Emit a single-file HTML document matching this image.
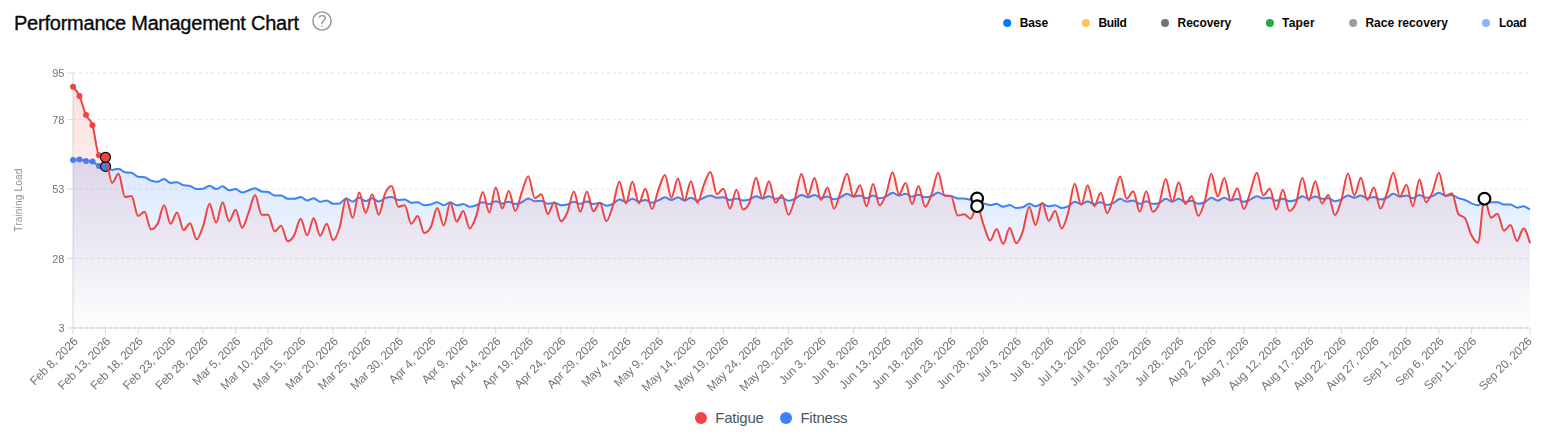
<!DOCTYPE html>
<html lang="en"><head><meta charset="utf-8"><title>Performance Management Chart</title>
<style>html,body{margin:0;padding:0;background:#fff;}body{width:1549px;height:440px;overflow:hidden;}svg{display:block;}text{font-family:"Liberation Sans",sans-serif;}</style></head><body>
<svg width="1549" height="440" viewBox="0 0 1549 440">
<defs>
<linearGradient id="gR" gradientUnits="userSpaceOnUse" x1="0" y1="86.80" x2="0" y2="328.00"><stop offset="5%" stop-color="#ef4444" stop-opacity="0.15"/><stop offset="95%" stop-color="#ef4444" stop-opacity="0.012"/></linearGradient>
<linearGradient id="gB" gradientUnits="userSpaceOnUse" x1="0" y1="159.50" x2="0" y2="328.00"><stop offset="5%" stop-color="#3b82f6" stop-opacity="0.18"/><stop offset="95%" stop-color="#3b82f6" stop-opacity="0.012"/></linearGradient>
</defs>
<rect width="1549" height="440" fill="#fff"/>
<text x="14.0" y="29.8" font-size="20" font-weight="normal" fill="#0a0a0a" textLength="285" lengthAdjust="spacing" stroke="#0a0a0a" stroke-width="0.35">Performance Management Chart</text>
<g><circle cx="322" cy="21" r="9.1" fill="none" stroke="#8e8e93" stroke-width="1.35"/>
<path d="M319.3,17.3 C319.8,16.2 320.9,15.7 322.2,15.7 C324,15.7 325.3,16.8 325.3,18.3 C325.3,20.6 321.9,20.9 321.9,23.6" fill="none" stroke="#8e8e93" stroke-width="1.3" stroke-linecap="round" stroke-linejoin="round"/><circle cx="321.9" cy="26.1" r="0.75" fill="#8e8e93"/></g>
<circle cx="1007.2" cy="23" r="4" fill="#007bff"/>
<text x="1019.8" y="27" font-size="12" font-weight="bold" fill="#050505" textLength="28.3" lengthAdjust="spacing">Base</text>
<circle cx="1085.8" cy="23" r="4" fill="#fdc25a"/>
<text x="1098.5" y="27" font-size="12" font-weight="bold" fill="#050505" textLength="28.3" lengthAdjust="spacing">Build</text>
<circle cx="1165" cy="23" r="4" fill="#6c757d"/>
<text x="1177.5" y="27" font-size="12" font-weight="bold" fill="#050505" textLength="53.8" lengthAdjust="spacing">Recovery</text>
<circle cx="1269.9" cy="23" r="4" fill="#28a745"/>
<text x="1282" y="27" font-size="12" font-weight="bold" fill="#050505" textLength="32.6" lengthAdjust="spacing">Taper</text>
<circle cx="1353.1" cy="23" r="4" fill="#9a9da1"/>
<text x="1365.4" y="27" font-size="12" font-weight="bold" fill="#050505" textLength="82.6" lengthAdjust="spacing">Race recovery</text>
<circle cx="1486" cy="23" r="4" fill="#8ab4f8"/>
<text x="1499" y="27" font-size="12" font-weight="bold" fill="#050505" textLength="27.6" lengthAdjust="spacing">Load</text>
<line x1="73.0" y1="73.0" x2="1530.0" y2="73.0" stroke="#e3e4e5" stroke-width="1" stroke-dasharray="3 3"/>
<line x1="73.0" y1="119.7" x2="1530.0" y2="119.7" stroke="#e3e4e5" stroke-width="1" stroke-dasharray="3 3"/>
<line x1="73.0" y1="189.1" x2="1530.0" y2="189.1" stroke="#e3e4e5" stroke-width="1" stroke-dasharray="3 3"/>
<line x1="73.0" y1="258.6" x2="1530.0" y2="258.6" stroke="#e3e4e5" stroke-width="1" stroke-dasharray="3 3"/>
<line x1="73.0" y1="328.0" x2="1530.0" y2="328.0" stroke="#e3e4e5" stroke-width="1" stroke-dasharray="3 3"/>
<line x1="73.0" y1="73.0" x2="73.0" y2="328.0" stroke="#d8d9db" stroke-width="1"/>
<line x1="73.0" y1="328.0" x2="1530.0" y2="328.0" stroke="#d8d9db" stroke-width="1"/>
<line x1="73.0" y1="328.0" x2="1530.0" y2="328.0" stroke="#d2d4d6" stroke-width="1" stroke-dasharray="3 3"/>
<path d="M73.00,159.90C75.17,159.70,77.34,159.50,79.50,159.50C81.67,159.50,83.84,160.73,86.01,161.00C88.18,161.27,90.35,161.13,92.51,161.40C94.68,161.67,96.85,165.90,99.02,166.10C101.19,166.30,103.35,166.20,105.52,166.40C107.69,166.60,109.86,170.00,112.03,170.00C114.19,170.00,116.36,168.64,118.53,168.64C120.70,168.64,122.87,171.97,125.04,172.27C127.20,172.58,129.37,172.42,131.54,172.73C133.71,173.03,135.88,176.52,138.04,176.82C140.21,177.12,142.38,176.97,144.55,177.27C146.72,177.58,148.89,179.92,151.05,180.68C153.22,181.44,155.39,181.82,157.56,181.82C159.73,181.82,161.89,179.09,164.06,179.09C166.23,179.09,168.40,182.95,170.57,182.95C172.74,182.95,174.90,182.27,177.07,182.27C179.24,182.27,181.41,184.77,183.58,185.23C185.74,185.68,187.91,185.45,190.08,185.91C192.25,186.36,194.42,189.09,196.58,189.09C198.75,189.09,200.92,188.94,203.09,188.64C205.26,188.33,207.43,185.68,209.59,185.68C211.76,185.68,213.93,189.09,216.10,189.09C218.27,189.09,220.43,186.36,222.60,186.36C224.77,186.36,226.94,190.23,229.11,190.23C231.28,190.23,233.44,189.09,235.61,189.09C237.78,189.09,239.95,192.50,242.12,192.50C244.28,192.50,246.45,191.17,248.62,190.45C250.79,189.73,252.96,188.18,255.12,188.18C257.29,188.18,259.46,191.29,261.63,191.59C263.80,191.89,265.97,191.74,268.13,192.05C270.30,192.35,272.47,195.45,274.64,195.45C276.81,195.45,278.97,195.45,281.14,195.45C283.31,195.45,285.48,198.86,287.65,198.86C289.82,198.86,291.98,198.86,294.15,198.86C296.32,198.86,298.49,197.05,300.66,197.05C302.82,197.05,304.99,200.45,307.16,200.45C309.33,200.45,311.50,198.18,313.67,198.18C315.83,198.18,318.00,201.82,320.17,201.82C322.34,201.82,324.51,200.45,326.67,200.45C328.84,200.45,331.01,203.86,333.18,203.86C335.35,203.86,337.51,203.71,339.68,203.41C341.85,203.11,344.02,198.41,346.19,198.41C348.36,198.41,350.52,201.59,352.69,201.59C354.86,201.59,357.03,197.73,359.20,197.73C361.36,197.73,363.53,201.14,365.70,201.14C367.87,201.14,370.04,198.18,372.21,198.18C374.37,198.18,376.54,201.59,378.71,201.59C380.88,201.59,383.05,198.94,385.21,198.18C387.38,197.42,389.55,197.05,391.72,197.05C393.89,197.05,396.06,200.00,398.22,200.00C400.39,200.00,402.56,199.55,404.73,199.55C406.90,199.55,409.06,202.73,411.23,202.73C413.40,202.73,415.57,202.27,417.74,202.27C419.90,202.27,422.07,205.23,424.24,205.23C426.41,205.23,428.58,205.00,430.75,204.55C432.91,204.09,435.08,202.27,437.25,202.27C439.42,202.27,441.59,205.23,443.75,205.23C445.92,205.23,448.09,202.27,450.26,202.27C452.43,202.27,454.60,205.23,456.76,205.23C458.93,205.23,461.10,204.09,463.27,204.09C465.44,204.09,467.60,206.82,469.77,206.82C471.94,206.82,474.11,205.98,476.28,205.23C478.44,204.47,480.61,202.27,482.78,202.27C484.95,202.27,487.12,204.09,489.29,204.09C491.45,204.09,493.62,201.14,495.79,201.14C497.96,201.14,500.13,203.41,502.29,203.41C504.46,203.41,506.63,201.82,508.80,201.82C510.97,201.82,513.14,204.09,515.30,204.09C517.47,204.09,519.64,203.22,521.81,202.27C523.98,201.33,526.14,198.41,528.31,198.41C530.48,198.41,532.65,201.14,534.82,201.14C536.99,201.14,539.15,200.68,541.32,200.68C543.49,200.68,545.66,203.86,547.83,203.86C549.99,203.86,552.16,202.73,554.33,202.73C556.50,202.73,558.67,205.23,560.83,205.23C563.00,205.23,565.17,205.00,567.34,204.55C569.51,204.09,571.68,201.82,573.84,201.82C576.01,201.82,578.18,203.86,580.35,203.86C582.52,203.86,584.68,201.59,586.85,201.59C589.02,201.59,591.19,204.09,593.36,204.09C595.53,204.09,597.69,202.73,599.86,202.73C602.03,202.73,604.20,205.68,606.37,205.68C608.53,205.68,610.70,204.89,612.87,203.86C615.04,202.84,617.21,199.55,619.38,199.55C621.54,199.55,623.71,201.82,625.88,201.82C628.05,201.82,630.22,198.86,632.38,198.86C634.55,198.86,636.72,201.59,638.89,201.59C641.06,201.59,643.22,200.00,645.39,200.00C647.56,200.00,649.73,202.73,651.90,202.73C654.07,202.73,656.23,201.36,658.40,200.45C660.57,199.55,662.74,197.27,664.91,197.27C667.07,197.27,669.24,200.00,671.41,200.00C673.58,200.00,675.75,197.27,677.92,197.27C680.08,197.27,682.25,200.45,684.42,200.45C686.59,200.45,688.76,197.73,690.92,197.73C693.09,197.73,695.26,200.45,697.43,200.45C699.60,200.45,701.76,198.56,703.93,197.73C706.10,196.89,708.27,195.45,710.44,195.45C712.61,195.45,714.77,197.73,716.94,197.73C719.11,197.73,721.28,197.27,723.45,197.27C725.61,197.27,727.78,200.00,729.95,200.00C732.12,200.00,734.29,198.41,736.46,198.41C738.62,198.41,740.79,200.45,742.96,200.45C745.13,200.45,747.30,200.15,749.46,199.55C751.63,198.94,753.80,196.14,755.97,196.14C758.14,196.14,760.31,198.41,762.47,198.41C764.64,198.41,766.81,196.14,768.98,196.14C771.15,196.14,773.31,198.86,775.48,198.86C777.65,198.86,779.82,197.73,781.99,197.73C784.15,197.73,786.32,200.68,788.49,200.68C790.66,200.68,792.83,199.81,795.00,198.86C797.16,197.92,799.33,195.00,801.50,195.00C803.67,195.00,805.84,197.27,808.00,197.27C810.17,197.27,812.34,195.00,814.51,195.00C816.68,195.00,818.85,197.73,821.01,197.73C823.18,197.73,825.35,196.59,827.52,196.59C829.69,196.59,831.85,199.32,834.02,199.32C836.19,199.32,838.36,198.22,840.53,197.27C842.69,196.33,844.86,193.64,847.03,193.64C849.20,193.64,851.37,196.59,853.54,196.59C855.70,196.59,857.87,195.45,860.04,195.45C862.21,195.45,864.38,198.18,866.54,198.18C868.71,198.18,870.88,195.45,873.05,195.45C875.22,195.45,877.39,198.18,879.55,198.18C881.72,198.18,883.89,197.50,886.06,196.59C888.23,195.68,890.39,192.73,892.56,192.73C894.73,192.73,896.90,195.45,899.07,195.45C901.24,195.45,903.40,193.86,905.57,193.86C907.74,193.86,909.91,196.59,912.08,196.59C914.24,196.59,916.41,194.77,918.58,194.77C920.75,194.77,922.92,197.27,925.08,197.27C927.25,197.27,929.42,196.89,931.59,196.14C933.76,195.38,935.93,192.50,938.09,192.50C940.26,192.50,942.43,195.15,944.60,195.45C946.77,195.76,948.93,195.61,951.10,195.91C953.27,196.21,955.44,198.41,957.61,198.41C959.78,198.41,961.94,198.41,964.11,198.41C966.28,198.41,968.45,199.55,970.62,199.55C972.78,199.55,974.95,198.86,977.12,198.86C979.29,198.86,981.46,202.39,983.62,203.41C985.79,204.43,987.96,205.00,990.13,205.00C992.30,205.00,994.47,203.86,996.63,203.86C998.80,203.86,1000.97,206.82,1003.14,206.82C1005.31,206.82,1007.47,205.00,1009.64,205.00C1011.81,205.00,1013.98,207.95,1016.15,207.95C1018.32,207.95,1020.48,207.73,1022.65,207.27C1024.82,206.82,1026.99,203.86,1029.16,203.86C1031.32,203.86,1033.49,206.36,1035.66,206.36C1037.83,206.36,1040.00,203.86,1042.17,203.86C1044.33,203.86,1046.50,206.36,1048.67,206.36C1050.84,206.36,1053.01,205.23,1055.17,205.23C1057.34,205.23,1059.51,207.95,1061.68,207.95C1063.85,207.95,1066.01,207.39,1068.18,206.36C1070.35,205.34,1072.52,201.82,1074.69,201.82C1076.86,201.82,1079.02,204.09,1081.19,204.09C1083.36,204.09,1085.53,201.59,1087.70,201.59C1089.86,201.59,1092.03,204.09,1094.20,204.09C1096.37,204.09,1098.54,202.27,1100.71,202.27C1102.87,202.27,1105.04,205.00,1107.21,205.00C1109.38,205.00,1111.55,203.98,1113.71,202.95C1115.88,201.93,1118.05,198.86,1120.22,198.86C1122.39,198.86,1124.56,201.59,1126.72,201.59C1128.89,201.59,1131.06,200.45,1133.23,200.45C1135.40,200.45,1137.56,203.86,1139.73,203.86C1141.90,203.86,1144.07,201.14,1146.24,201.14C1148.40,201.14,1150.57,203.86,1152.74,203.86C1154.91,203.86,1157.08,203.56,1159.25,202.95C1161.41,202.35,1163.58,198.86,1165.75,198.86C1167.92,198.86,1170.09,201.59,1172.25,201.59C1174.42,201.59,1176.59,198.86,1178.76,198.86C1180.93,198.86,1183.10,201.82,1185.26,201.82C1187.43,201.82,1189.60,200.68,1191.77,200.68C1193.94,200.68,1196.10,203.86,1198.27,203.86C1200.44,203.86,1202.61,203.30,1204.78,202.27C1206.94,201.25,1209.11,197.73,1211.28,197.73C1213.45,197.73,1215.62,200.45,1217.79,200.45C1219.95,200.45,1222.12,197.73,1224.29,197.73C1226.46,197.73,1228.63,200.45,1230.79,200.45C1232.96,200.45,1235.13,198.86,1237.30,198.86C1239.47,198.86,1241.64,201.82,1243.80,201.82C1245.97,201.82,1248.14,200.49,1250.31,199.55C1252.48,198.60,1254.64,196.14,1256.81,196.14C1258.98,196.14,1261.15,198.41,1263.32,198.41C1265.49,198.41,1267.65,197.73,1269.82,197.73C1271.99,197.73,1274.16,200.68,1276.33,200.68C1278.49,200.68,1280.66,198.86,1282.83,198.86C1285.00,198.86,1287.17,201.14,1289.33,201.14C1291.50,201.14,1293.67,200.76,1295.84,200.00C1298.01,199.24,1300.18,196.14,1302.34,196.14C1304.51,196.14,1306.68,198.86,1308.85,198.86C1311.02,198.86,1313.18,196.59,1315.35,196.59C1317.52,196.59,1319.69,198.86,1321.86,198.86C1324.03,198.86,1326.19,198.18,1328.36,198.18C1330.53,198.18,1332.70,201.14,1334.87,201.14C1337.03,201.14,1339.20,200.27,1341.37,199.32C1343.54,198.37,1345.71,195.45,1347.88,195.45C1350.04,195.45,1352.21,197.73,1354.38,197.73C1356.55,197.73,1358.72,195.45,1360.88,195.45C1363.05,195.45,1365.22,198.18,1367.39,198.18C1369.56,198.18,1371.72,197.05,1373.89,197.05C1376.06,197.05,1378.23,199.55,1380.40,199.55C1382.57,199.55,1384.73,198.67,1386.90,197.73C1389.07,196.78,1391.24,193.86,1393.41,193.86C1395.57,193.86,1397.74,196.59,1399.91,196.59C1402.08,196.59,1404.25,195.45,1406.42,195.45C1408.58,195.45,1410.75,198.18,1412.92,198.18C1415.09,198.18,1417.26,195.00,1419.42,195.00C1421.59,195.00,1423.76,197.73,1425.93,197.73C1428.10,197.73,1430.26,196.97,1432.43,196.14C1434.60,195.30,1436.77,192.73,1438.94,192.73C1441.11,192.73,1443.27,195.45,1445.44,195.45C1447.61,195.45,1449.78,195.00,1451.95,195.00C1454.11,195.00,1456.28,197.35,1458.45,198.18C1460.62,199.02,1462.79,199.13,1464.96,200.00C1467.12,200.87,1469.29,202.54,1471.46,203.41C1473.63,204.28,1475.80,205.23,1477.96,205.23C1480.13,205.23,1482.30,203.03,1484.47,202.73C1486.64,202.42,1488.81,202.27,1490.97,202.27C1493.14,202.27,1495.31,202.27,1497.48,202.27C1499.65,202.27,1501.81,204.55,1503.98,204.55C1506.15,204.55,1508.32,204.55,1510.49,204.55C1512.65,204.55,1514.82,207.50,1516.99,207.50C1519.16,207.50,1521.33,206.36,1523.50,206.36C1525.66,206.36,1527.83,207.95,1530.00,209.55L1530.00,328.00L73.00,328.00Z" fill="url(#gB)"/>
<path d="M73.00,159.90C75.17,159.70,77.34,159.50,79.50,159.50C81.67,159.50,83.84,160.73,86.01,161.00C88.18,161.27,90.35,161.13,92.51,161.40C94.68,161.67,96.85,165.90,99.02,166.10C101.19,166.30,103.35,166.20,105.52,166.40C107.69,166.60,109.86,170.00,112.03,170.00C114.19,170.00,116.36,168.64,118.53,168.64C120.70,168.64,122.87,171.97,125.04,172.27C127.20,172.58,129.37,172.42,131.54,172.73C133.71,173.03,135.88,176.52,138.04,176.82C140.21,177.12,142.38,176.97,144.55,177.27C146.72,177.58,148.89,179.92,151.05,180.68C153.22,181.44,155.39,181.82,157.56,181.82C159.73,181.82,161.89,179.09,164.06,179.09C166.23,179.09,168.40,182.95,170.57,182.95C172.74,182.95,174.90,182.27,177.07,182.27C179.24,182.27,181.41,184.77,183.58,185.23C185.74,185.68,187.91,185.45,190.08,185.91C192.25,186.36,194.42,189.09,196.58,189.09C198.75,189.09,200.92,188.94,203.09,188.64C205.26,188.33,207.43,185.68,209.59,185.68C211.76,185.68,213.93,189.09,216.10,189.09C218.27,189.09,220.43,186.36,222.60,186.36C224.77,186.36,226.94,190.23,229.11,190.23C231.28,190.23,233.44,189.09,235.61,189.09C237.78,189.09,239.95,192.50,242.12,192.50C244.28,192.50,246.45,191.17,248.62,190.45C250.79,189.73,252.96,188.18,255.12,188.18C257.29,188.18,259.46,191.29,261.63,191.59C263.80,191.89,265.97,191.74,268.13,192.05C270.30,192.35,272.47,195.45,274.64,195.45C276.81,195.45,278.97,195.45,281.14,195.45C283.31,195.45,285.48,198.86,287.65,198.86C289.82,198.86,291.98,198.86,294.15,198.86C296.32,198.86,298.49,197.05,300.66,197.05C302.82,197.05,304.99,200.45,307.16,200.45C309.33,200.45,311.50,198.18,313.67,198.18C315.83,198.18,318.00,201.82,320.17,201.82C322.34,201.82,324.51,200.45,326.67,200.45C328.84,200.45,331.01,203.86,333.18,203.86C335.35,203.86,337.51,203.71,339.68,203.41C341.85,203.11,344.02,198.41,346.19,198.41C348.36,198.41,350.52,201.59,352.69,201.59C354.86,201.59,357.03,197.73,359.20,197.73C361.36,197.73,363.53,201.14,365.70,201.14C367.87,201.14,370.04,198.18,372.21,198.18C374.37,198.18,376.54,201.59,378.71,201.59C380.88,201.59,383.05,198.94,385.21,198.18C387.38,197.42,389.55,197.05,391.72,197.05C393.89,197.05,396.06,200.00,398.22,200.00C400.39,200.00,402.56,199.55,404.73,199.55C406.90,199.55,409.06,202.73,411.23,202.73C413.40,202.73,415.57,202.27,417.74,202.27C419.90,202.27,422.07,205.23,424.24,205.23C426.41,205.23,428.58,205.00,430.75,204.55C432.91,204.09,435.08,202.27,437.25,202.27C439.42,202.27,441.59,205.23,443.75,205.23C445.92,205.23,448.09,202.27,450.26,202.27C452.43,202.27,454.60,205.23,456.76,205.23C458.93,205.23,461.10,204.09,463.27,204.09C465.44,204.09,467.60,206.82,469.77,206.82C471.94,206.82,474.11,205.98,476.28,205.23C478.44,204.47,480.61,202.27,482.78,202.27C484.95,202.27,487.12,204.09,489.29,204.09C491.45,204.09,493.62,201.14,495.79,201.14C497.96,201.14,500.13,203.41,502.29,203.41C504.46,203.41,506.63,201.82,508.80,201.82C510.97,201.82,513.14,204.09,515.30,204.09C517.47,204.09,519.64,203.22,521.81,202.27C523.98,201.33,526.14,198.41,528.31,198.41C530.48,198.41,532.65,201.14,534.82,201.14C536.99,201.14,539.15,200.68,541.32,200.68C543.49,200.68,545.66,203.86,547.83,203.86C549.99,203.86,552.16,202.73,554.33,202.73C556.50,202.73,558.67,205.23,560.83,205.23C563.00,205.23,565.17,205.00,567.34,204.55C569.51,204.09,571.68,201.82,573.84,201.82C576.01,201.82,578.18,203.86,580.35,203.86C582.52,203.86,584.68,201.59,586.85,201.59C589.02,201.59,591.19,204.09,593.36,204.09C595.53,204.09,597.69,202.73,599.86,202.73C602.03,202.73,604.20,205.68,606.37,205.68C608.53,205.68,610.70,204.89,612.87,203.86C615.04,202.84,617.21,199.55,619.38,199.55C621.54,199.55,623.71,201.82,625.88,201.82C628.05,201.82,630.22,198.86,632.38,198.86C634.55,198.86,636.72,201.59,638.89,201.59C641.06,201.59,643.22,200.00,645.39,200.00C647.56,200.00,649.73,202.73,651.90,202.73C654.07,202.73,656.23,201.36,658.40,200.45C660.57,199.55,662.74,197.27,664.91,197.27C667.07,197.27,669.24,200.00,671.41,200.00C673.58,200.00,675.75,197.27,677.92,197.27C680.08,197.27,682.25,200.45,684.42,200.45C686.59,200.45,688.76,197.73,690.92,197.73C693.09,197.73,695.26,200.45,697.43,200.45C699.60,200.45,701.76,198.56,703.93,197.73C706.10,196.89,708.27,195.45,710.44,195.45C712.61,195.45,714.77,197.73,716.94,197.73C719.11,197.73,721.28,197.27,723.45,197.27C725.61,197.27,727.78,200.00,729.95,200.00C732.12,200.00,734.29,198.41,736.46,198.41C738.62,198.41,740.79,200.45,742.96,200.45C745.13,200.45,747.30,200.15,749.46,199.55C751.63,198.94,753.80,196.14,755.97,196.14C758.14,196.14,760.31,198.41,762.47,198.41C764.64,198.41,766.81,196.14,768.98,196.14C771.15,196.14,773.31,198.86,775.48,198.86C777.65,198.86,779.82,197.73,781.99,197.73C784.15,197.73,786.32,200.68,788.49,200.68C790.66,200.68,792.83,199.81,795.00,198.86C797.16,197.92,799.33,195.00,801.50,195.00C803.67,195.00,805.84,197.27,808.00,197.27C810.17,197.27,812.34,195.00,814.51,195.00C816.68,195.00,818.85,197.73,821.01,197.73C823.18,197.73,825.35,196.59,827.52,196.59C829.69,196.59,831.85,199.32,834.02,199.32C836.19,199.32,838.36,198.22,840.53,197.27C842.69,196.33,844.86,193.64,847.03,193.64C849.20,193.64,851.37,196.59,853.54,196.59C855.70,196.59,857.87,195.45,860.04,195.45C862.21,195.45,864.38,198.18,866.54,198.18C868.71,198.18,870.88,195.45,873.05,195.45C875.22,195.45,877.39,198.18,879.55,198.18C881.72,198.18,883.89,197.50,886.06,196.59C888.23,195.68,890.39,192.73,892.56,192.73C894.73,192.73,896.90,195.45,899.07,195.45C901.24,195.45,903.40,193.86,905.57,193.86C907.74,193.86,909.91,196.59,912.08,196.59C914.24,196.59,916.41,194.77,918.58,194.77C920.75,194.77,922.92,197.27,925.08,197.27C927.25,197.27,929.42,196.89,931.59,196.14C933.76,195.38,935.93,192.50,938.09,192.50C940.26,192.50,942.43,195.15,944.60,195.45C946.77,195.76,948.93,195.61,951.10,195.91C953.27,196.21,955.44,198.41,957.61,198.41C959.78,198.41,961.94,198.41,964.11,198.41C966.28,198.41,968.45,199.55,970.62,199.55C972.78,199.55,974.95,198.86,977.12,198.86C979.29,198.86,981.46,202.39,983.62,203.41C985.79,204.43,987.96,205.00,990.13,205.00C992.30,205.00,994.47,203.86,996.63,203.86C998.80,203.86,1000.97,206.82,1003.14,206.82C1005.31,206.82,1007.47,205.00,1009.64,205.00C1011.81,205.00,1013.98,207.95,1016.15,207.95C1018.32,207.95,1020.48,207.73,1022.65,207.27C1024.82,206.82,1026.99,203.86,1029.16,203.86C1031.32,203.86,1033.49,206.36,1035.66,206.36C1037.83,206.36,1040.00,203.86,1042.17,203.86C1044.33,203.86,1046.50,206.36,1048.67,206.36C1050.84,206.36,1053.01,205.23,1055.17,205.23C1057.34,205.23,1059.51,207.95,1061.68,207.95C1063.85,207.95,1066.01,207.39,1068.18,206.36C1070.35,205.34,1072.52,201.82,1074.69,201.82C1076.86,201.82,1079.02,204.09,1081.19,204.09C1083.36,204.09,1085.53,201.59,1087.70,201.59C1089.86,201.59,1092.03,204.09,1094.20,204.09C1096.37,204.09,1098.54,202.27,1100.71,202.27C1102.87,202.27,1105.04,205.00,1107.21,205.00C1109.38,205.00,1111.55,203.98,1113.71,202.95C1115.88,201.93,1118.05,198.86,1120.22,198.86C1122.39,198.86,1124.56,201.59,1126.72,201.59C1128.89,201.59,1131.06,200.45,1133.23,200.45C1135.40,200.45,1137.56,203.86,1139.73,203.86C1141.90,203.86,1144.07,201.14,1146.24,201.14C1148.40,201.14,1150.57,203.86,1152.74,203.86C1154.91,203.86,1157.08,203.56,1159.25,202.95C1161.41,202.35,1163.58,198.86,1165.75,198.86C1167.92,198.86,1170.09,201.59,1172.25,201.59C1174.42,201.59,1176.59,198.86,1178.76,198.86C1180.93,198.86,1183.10,201.82,1185.26,201.82C1187.43,201.82,1189.60,200.68,1191.77,200.68C1193.94,200.68,1196.10,203.86,1198.27,203.86C1200.44,203.86,1202.61,203.30,1204.78,202.27C1206.94,201.25,1209.11,197.73,1211.28,197.73C1213.45,197.73,1215.62,200.45,1217.79,200.45C1219.95,200.45,1222.12,197.73,1224.29,197.73C1226.46,197.73,1228.63,200.45,1230.79,200.45C1232.96,200.45,1235.13,198.86,1237.30,198.86C1239.47,198.86,1241.64,201.82,1243.80,201.82C1245.97,201.82,1248.14,200.49,1250.31,199.55C1252.48,198.60,1254.64,196.14,1256.81,196.14C1258.98,196.14,1261.15,198.41,1263.32,198.41C1265.49,198.41,1267.65,197.73,1269.82,197.73C1271.99,197.73,1274.16,200.68,1276.33,200.68C1278.49,200.68,1280.66,198.86,1282.83,198.86C1285.00,198.86,1287.17,201.14,1289.33,201.14C1291.50,201.14,1293.67,200.76,1295.84,200.00C1298.01,199.24,1300.18,196.14,1302.34,196.14C1304.51,196.14,1306.68,198.86,1308.85,198.86C1311.02,198.86,1313.18,196.59,1315.35,196.59C1317.52,196.59,1319.69,198.86,1321.86,198.86C1324.03,198.86,1326.19,198.18,1328.36,198.18C1330.53,198.18,1332.70,201.14,1334.87,201.14C1337.03,201.14,1339.20,200.27,1341.37,199.32C1343.54,198.37,1345.71,195.45,1347.88,195.45C1350.04,195.45,1352.21,197.73,1354.38,197.73C1356.55,197.73,1358.72,195.45,1360.88,195.45C1363.05,195.45,1365.22,198.18,1367.39,198.18C1369.56,198.18,1371.72,197.05,1373.89,197.05C1376.06,197.05,1378.23,199.55,1380.40,199.55C1382.57,199.55,1384.73,198.67,1386.90,197.73C1389.07,196.78,1391.24,193.86,1393.41,193.86C1395.57,193.86,1397.74,196.59,1399.91,196.59C1402.08,196.59,1404.25,195.45,1406.42,195.45C1408.58,195.45,1410.75,198.18,1412.92,198.18C1415.09,198.18,1417.26,195.00,1419.42,195.00C1421.59,195.00,1423.76,197.73,1425.93,197.73C1428.10,197.73,1430.26,196.97,1432.43,196.14C1434.60,195.30,1436.77,192.73,1438.94,192.73C1441.11,192.73,1443.27,195.45,1445.44,195.45C1447.61,195.45,1449.78,195.00,1451.95,195.00C1454.11,195.00,1456.28,197.35,1458.45,198.18C1460.62,199.02,1462.79,199.13,1464.96,200.00C1467.12,200.87,1469.29,202.54,1471.46,203.41C1473.63,204.28,1475.80,205.23,1477.96,205.23C1480.13,205.23,1482.30,203.03,1484.47,202.73C1486.64,202.42,1488.81,202.27,1490.97,202.27C1493.14,202.27,1495.31,202.27,1497.48,202.27C1499.65,202.27,1501.81,204.55,1503.98,204.55C1506.15,204.55,1508.32,204.55,1510.49,204.55C1512.65,204.55,1514.82,207.50,1516.99,207.50C1519.16,207.50,1521.33,206.36,1523.50,206.36C1525.66,206.36,1527.83,207.95,1530.00,209.55" fill="none" stroke="#3b82f6" stroke-width="2" stroke-linejoin="round"/>
<circle cx="73.00" cy="159.90" r="3" fill="#3b82f6"/>
<circle cx="79.50" cy="159.50" r="3" fill="#3b82f6"/>
<circle cx="86.01" cy="161.00" r="3" fill="#3b82f6"/>
<circle cx="92.51" cy="161.40" r="3" fill="#3b82f6"/>
<circle cx="99.02" cy="166.10" r="3" fill="#3b82f6"/>
<circle cx="105.52" cy="166.40" r="5" fill="#3b82f6" stroke="#000" stroke-width="1.2"/>
<path d="M73.00,86.80C75.17,89.09,77.34,91.38,79.50,96.10C81.67,100.82,83.84,110.25,86.01,115.10C88.18,119.95,90.35,118.50,92.51,125.20C94.68,131.90,96.85,153.97,99.02,155.30C101.19,156.63,103.35,155.97,105.52,157.30C107.69,158.63,109.86,182.95,112.03,182.95C114.19,182.95,116.36,173.86,118.53,173.86C120.70,173.86,122.87,197.00,125.04,197.00C127.20,197.00,129.37,196.00,131.54,196.00C133.71,196.00,135.88,215.91,138.04,215.91C140.21,215.91,142.38,211.82,144.55,211.82C146.72,211.82,148.89,229.55,151.05,229.55C153.22,229.55,155.39,227.65,157.56,223.86C159.73,220.08,161.89,205.23,164.06,205.23C166.23,205.23,168.40,223.86,170.57,223.86C172.74,223.86,174.90,212.50,177.07,212.50C179.24,212.50,181.41,230.00,183.58,230.00C185.74,230.00,187.91,223.18,190.08,223.18C192.25,223.18,194.42,239.32,196.58,239.32C198.75,239.32,200.92,232.05,203.09,226.14C205.26,220.23,207.43,203.86,209.59,203.86C211.76,203.86,213.93,222.73,216.10,222.73C218.27,222.73,220.43,202.27,222.60,202.27C224.77,202.27,226.94,221.14,229.11,221.14C231.28,221.14,233.44,209.77,235.61,209.77C237.78,209.77,239.95,227.73,242.12,227.73C244.28,227.73,246.45,217.95,248.62,212.50C250.79,207.05,252.96,195.00,255.12,195.00C257.29,195.00,259.46,214.77,261.63,214.77C263.80,214.77,265.97,214.77,268.13,214.77C270.30,214.77,272.47,231.36,274.64,231.36C276.81,231.36,278.97,225.68,281.14,225.68C283.31,225.68,285.48,241.36,287.65,241.36C289.82,241.36,291.98,239.02,294.15,235.23C296.32,231.44,298.49,218.64,300.66,218.64C302.82,218.64,304.99,235.23,307.16,235.23C309.33,235.23,311.50,218.18,313.67,218.18C315.83,218.18,318.00,235.68,320.17,235.68C322.34,235.68,324.51,223.86,326.67,223.86C328.84,223.86,331.01,240.23,333.18,240.23C335.35,240.23,337.51,234.28,339.68,227.27C341.85,220.27,344.02,198.18,346.19,198.18C348.36,198.18,350.52,217.73,352.69,217.73C354.86,217.73,357.03,192.50,359.20,192.50C361.36,192.50,363.53,212.95,365.70,212.95C367.87,212.95,370.04,194.32,372.21,194.32C374.37,194.32,376.54,214.77,378.71,214.77C380.88,214.77,383.05,197.99,385.21,193.18C387.38,188.37,389.55,185.91,391.72,185.91C393.89,185.91,396.06,206.82,398.22,206.82C400.39,206.82,402.56,205.23,404.73,205.23C406.90,205.23,409.06,223.86,411.23,223.86C413.40,223.86,415.57,215.91,417.74,215.91C419.90,215.91,422.07,232.95,424.24,232.95C426.41,232.95,428.58,231.06,430.75,227.27C432.91,223.48,435.08,207.95,437.25,207.95C439.42,207.95,441.59,225.45,443.75,225.45C445.92,225.45,448.09,202.73,450.26,202.73C452.43,202.73,454.60,221.59,456.76,221.59C458.93,221.59,461.10,210.91,463.27,210.91C465.44,210.91,467.60,228.41,469.77,228.41C471.94,228.41,474.11,221.97,476.28,215.91C478.44,209.85,480.61,192.05,482.78,192.05C484.95,192.05,487.12,212.50,489.29,212.50C491.45,212.50,493.62,187.50,495.79,187.50C497.96,187.50,500.13,208.41,502.29,208.41C504.46,208.41,506.63,190.91,508.80,190.91C510.97,190.91,513.14,210.91,515.30,210.91C517.47,210.91,519.64,197.84,521.81,192.05C523.98,186.25,526.14,176.14,528.31,176.14C530.48,176.14,532.65,198.18,534.82,198.18C536.99,198.18,539.15,194.32,541.32,194.32C543.49,194.32,545.66,214.09,547.83,214.09C549.99,214.09,552.16,202.27,554.33,202.27C556.50,202.27,558.67,221.14,560.83,221.14C563.00,221.14,565.17,217.42,567.34,212.50C569.51,207.58,571.68,191.59,573.84,191.59C576.01,191.59,578.18,211.82,580.35,211.82C582.52,211.82,584.68,191.59,586.85,191.59C589.02,191.59,591.19,211.36,593.36,211.36C595.53,211.36,597.69,202.73,599.86,202.73C602.03,202.73,604.20,221.14,606.37,221.14C608.53,221.14,610.70,212.23,612.87,205.68C615.04,199.13,617.21,181.82,619.38,181.82C621.54,181.82,623.71,203.41,625.88,203.41C628.05,203.41,630.22,181.82,632.38,181.82C634.55,181.82,636.72,203.41,638.89,203.41C641.06,203.41,643.22,188.64,645.39,188.64C647.56,188.64,649.73,209.09,651.90,209.09C654.07,209.09,656.23,195.48,658.40,189.80C660.57,184.12,662.74,175.00,664.91,175.00C667.07,175.00,669.24,197.73,671.41,197.73C673.58,197.73,675.75,178.41,677.92,178.41C680.08,178.41,682.25,200.45,684.42,200.45C686.59,200.45,688.76,181.14,690.92,181.14C693.09,181.14,695.26,202.73,697.43,202.73C699.60,202.73,701.76,189.71,703.93,184.60C706.10,179.49,708.27,172.05,710.44,172.05C712.61,172.05,714.77,194.32,716.94,194.32C719.11,194.32,721.28,188.64,723.45,188.64C725.61,188.64,727.78,208.64,729.95,208.64C732.12,208.64,734.29,189.77,736.46,189.77C738.62,189.77,740.79,209.55,742.96,209.55C745.13,209.55,747.30,207.27,749.46,202.73C751.63,198.18,753.80,177.73,755.97,177.73C758.14,177.73,760.31,198.41,762.47,198.41C764.64,198.41,766.81,181.36,768.98,181.36C771.15,181.36,773.31,202.73,775.48,202.73C777.65,202.73,779.82,195.00,781.99,195.00C784.15,195.00,786.32,214.77,788.49,214.77C790.66,214.77,792.83,205.00,795.00,198.18C797.16,191.36,799.33,173.86,801.50,173.86C803.67,173.86,805.84,195.45,808.00,195.45C810.17,195.45,812.34,177.95,814.51,177.95C816.68,177.95,818.85,200.00,821.01,200.00C823.18,200.00,825.35,187.50,827.52,187.50C829.69,187.50,831.85,208.64,834.02,208.64C836.19,208.64,838.36,197.84,840.53,192.05C842.69,186.25,844.86,173.86,847.03,173.86C849.20,173.86,851.37,196.59,853.54,196.59C855.70,196.59,857.87,185.23,860.04,185.23C862.21,185.23,864.38,206.36,866.54,206.36C868.71,206.36,870.88,184.09,873.05,184.09C875.22,184.09,877.39,205.23,879.55,205.23C881.72,205.23,883.89,199.81,886.06,194.32C888.23,188.83,890.39,172.27,892.56,172.27C894.73,172.27,896.90,194.32,899.07,194.32C901.24,194.32,903.40,182.95,905.57,182.95C907.74,182.95,909.91,204.09,912.08,204.09C914.24,204.09,916.41,185.91,918.58,185.91C920.75,185.91,922.92,206.82,925.08,206.82C927.25,206.82,929.42,200.00,931.59,194.32C933.76,188.64,935.93,172.73,938.09,172.73C940.26,172.73,942.43,195.00,944.60,195.45C946.77,195.91,948.93,195.68,951.10,196.14C953.27,196.59,955.44,215.45,957.61,215.45C959.78,215.45,961.94,214.32,964.11,214.32C966.28,214.32,968.45,218.64,970.62,218.64C972.78,218.64,974.95,205.68,977.12,205.68C979.29,205.68,981.46,219.20,983.62,225.00C985.79,230.80,987.96,240.45,990.13,240.45C992.30,240.45,994.47,229.09,996.63,229.09C998.80,229.09,1000.97,243.86,1003.14,243.86C1005.31,243.86,1007.47,227.95,1009.64,227.95C1011.81,227.95,1013.98,243.18,1016.15,243.18C1018.32,243.18,1020.48,237.88,1022.65,231.82C1024.82,225.76,1026.99,206.82,1029.16,206.82C1031.32,206.82,1033.49,225.00,1035.66,225.00C1037.83,225.00,1040.00,202.73,1042.17,202.73C1044.33,202.73,1046.50,220.91,1048.67,220.91C1050.84,220.91,1053.01,210.91,1055.17,210.91C1057.34,210.91,1059.51,228.41,1061.68,228.41C1063.85,228.41,1066.01,219.96,1068.18,212.50C1070.35,205.04,1072.52,183.64,1074.69,183.64C1076.86,183.64,1079.02,205.00,1081.19,205.00C1083.36,205.00,1085.53,185.23,1087.70,185.23C1089.86,185.23,1092.03,206.14,1094.20,206.14C1096.37,206.14,1098.54,192.73,1100.71,192.73C1102.87,192.73,1105.04,213.18,1107.21,213.18C1109.38,213.18,1111.55,202.69,1113.71,196.59C1115.88,190.49,1118.05,176.59,1120.22,176.59C1122.39,176.59,1124.56,198.86,1126.72,198.86C1128.89,198.86,1131.06,191.36,1133.23,191.36C1135.40,191.36,1137.56,211.82,1139.73,211.82C1141.90,211.82,1144.07,191.36,1146.24,191.36C1148.40,191.36,1150.57,211.82,1152.74,211.82C1154.91,211.82,1157.08,208.86,1159.25,203.41C1161.41,197.95,1163.58,179.09,1165.75,179.09C1167.92,179.09,1170.09,201.59,1172.25,201.59C1174.42,201.59,1176.59,182.27,1178.76,182.27C1180.93,182.27,1183.10,204.09,1185.26,204.09C1187.43,204.09,1189.60,196.14,1191.77,196.14C1193.94,196.14,1196.10,215.91,1198.27,215.91C1200.44,215.91,1202.61,208.14,1204.78,201.14C1206.94,194.13,1209.11,173.86,1211.28,173.86C1213.45,173.86,1215.62,196.59,1217.79,196.59C1219.95,196.59,1222.12,177.95,1224.29,177.95C1226.46,177.95,1228.63,200.45,1230.79,200.45C1232.96,200.45,1235.13,188.18,1237.30,188.18C1239.47,188.18,1241.64,209.09,1243.80,209.09C1245.97,209.09,1248.14,198.11,1250.31,192.05C1252.48,185.98,1254.64,172.73,1256.81,172.73C1258.98,172.73,1261.15,195.45,1263.32,195.45C1265.49,195.45,1267.65,188.64,1269.82,188.64C1271.99,188.64,1274.16,209.77,1276.33,209.77C1278.49,209.77,1280.66,189.77,1282.83,189.77C1285.00,189.77,1287.17,210.91,1289.33,210.91C1291.50,210.91,1293.67,208.41,1295.84,203.41C1298.01,198.41,1300.18,177.73,1302.34,177.73C1304.51,177.73,1306.68,200.45,1308.85,200.45C1311.02,200.45,1313.18,181.14,1315.35,181.14C1317.52,181.14,1319.69,203.41,1321.86,203.41C1324.03,203.41,1326.19,195.00,1328.36,195.00C1330.53,195.00,1332.70,215.23,1334.87,215.23C1337.03,215.23,1339.20,206.97,1341.37,200.00C1343.54,193.03,1345.71,173.41,1347.88,173.41C1350.04,173.41,1352.21,195.45,1354.38,195.45C1356.55,195.45,1358.72,177.73,1360.88,177.73C1363.05,177.73,1365.22,200.00,1367.39,200.00C1369.56,200.00,1371.72,187.50,1373.89,187.50C1376.06,187.50,1378.23,208.64,1380.40,208.64C1382.57,208.64,1384.73,199.17,1386.90,193.18C1389.07,187.20,1391.24,172.73,1393.41,172.73C1395.57,172.73,1397.74,196.59,1399.91,196.59C1402.08,196.59,1404.25,184.77,1406.42,184.77C1408.58,184.77,1410.75,206.14,1412.92,206.14C1415.09,206.14,1417.26,179.55,1419.42,179.55C1421.59,179.55,1423.76,202.27,1425.93,202.27C1428.10,202.27,1430.26,196.97,1432.43,192.05C1434.60,187.12,1436.77,172.73,1438.94,172.73C1441.11,172.73,1443.27,196.14,1445.44,196.14C1447.61,196.14,1449.78,193.18,1451.95,193.18C1454.11,193.18,1456.28,211.36,1458.45,214.09C1460.62,216.82,1462.79,215.45,1464.96,218.18C1467.12,220.91,1469.29,231.14,1471.46,235.23C1473.63,239.32,1475.80,242.73,1477.96,242.73C1480.13,242.73,1482.30,198.86,1484.47,198.86C1486.64,198.86,1488.81,217.73,1490.97,217.73C1493.14,217.73,1495.31,213.64,1497.48,213.64C1499.65,213.64,1501.81,230.68,1503.98,230.68C1506.15,230.68,1508.32,225.00,1510.49,225.00C1512.65,225.00,1514.82,240.91,1516.99,240.91C1519.16,240.91,1521.33,228.41,1523.50,228.41C1525.66,228.41,1527.83,235.80,1530.00,243.18L1530.00,328.00L73.00,328.00Z" fill="url(#gR)"/>
<path d="M73.00,86.80C75.17,89.09,77.34,91.38,79.50,96.10C81.67,100.82,83.84,110.25,86.01,115.10C88.18,119.95,90.35,118.50,92.51,125.20C94.68,131.90,96.85,153.97,99.02,155.30C101.19,156.63,103.35,155.97,105.52,157.30C107.69,158.63,109.86,182.95,112.03,182.95C114.19,182.95,116.36,173.86,118.53,173.86C120.70,173.86,122.87,197.00,125.04,197.00C127.20,197.00,129.37,196.00,131.54,196.00C133.71,196.00,135.88,215.91,138.04,215.91C140.21,215.91,142.38,211.82,144.55,211.82C146.72,211.82,148.89,229.55,151.05,229.55C153.22,229.55,155.39,227.65,157.56,223.86C159.73,220.08,161.89,205.23,164.06,205.23C166.23,205.23,168.40,223.86,170.57,223.86C172.74,223.86,174.90,212.50,177.07,212.50C179.24,212.50,181.41,230.00,183.58,230.00C185.74,230.00,187.91,223.18,190.08,223.18C192.25,223.18,194.42,239.32,196.58,239.32C198.75,239.32,200.92,232.05,203.09,226.14C205.26,220.23,207.43,203.86,209.59,203.86C211.76,203.86,213.93,222.73,216.10,222.73C218.27,222.73,220.43,202.27,222.60,202.27C224.77,202.27,226.94,221.14,229.11,221.14C231.28,221.14,233.44,209.77,235.61,209.77C237.78,209.77,239.95,227.73,242.12,227.73C244.28,227.73,246.45,217.95,248.62,212.50C250.79,207.05,252.96,195.00,255.12,195.00C257.29,195.00,259.46,214.77,261.63,214.77C263.80,214.77,265.97,214.77,268.13,214.77C270.30,214.77,272.47,231.36,274.64,231.36C276.81,231.36,278.97,225.68,281.14,225.68C283.31,225.68,285.48,241.36,287.65,241.36C289.82,241.36,291.98,239.02,294.15,235.23C296.32,231.44,298.49,218.64,300.66,218.64C302.82,218.64,304.99,235.23,307.16,235.23C309.33,235.23,311.50,218.18,313.67,218.18C315.83,218.18,318.00,235.68,320.17,235.68C322.34,235.68,324.51,223.86,326.67,223.86C328.84,223.86,331.01,240.23,333.18,240.23C335.35,240.23,337.51,234.28,339.68,227.27C341.85,220.27,344.02,198.18,346.19,198.18C348.36,198.18,350.52,217.73,352.69,217.73C354.86,217.73,357.03,192.50,359.20,192.50C361.36,192.50,363.53,212.95,365.70,212.95C367.87,212.95,370.04,194.32,372.21,194.32C374.37,194.32,376.54,214.77,378.71,214.77C380.88,214.77,383.05,197.99,385.21,193.18C387.38,188.37,389.55,185.91,391.72,185.91C393.89,185.91,396.06,206.82,398.22,206.82C400.39,206.82,402.56,205.23,404.73,205.23C406.90,205.23,409.06,223.86,411.23,223.86C413.40,223.86,415.57,215.91,417.74,215.91C419.90,215.91,422.07,232.95,424.24,232.95C426.41,232.95,428.58,231.06,430.75,227.27C432.91,223.48,435.08,207.95,437.25,207.95C439.42,207.95,441.59,225.45,443.75,225.45C445.92,225.45,448.09,202.73,450.26,202.73C452.43,202.73,454.60,221.59,456.76,221.59C458.93,221.59,461.10,210.91,463.27,210.91C465.44,210.91,467.60,228.41,469.77,228.41C471.94,228.41,474.11,221.97,476.28,215.91C478.44,209.85,480.61,192.05,482.78,192.05C484.95,192.05,487.12,212.50,489.29,212.50C491.45,212.50,493.62,187.50,495.79,187.50C497.96,187.50,500.13,208.41,502.29,208.41C504.46,208.41,506.63,190.91,508.80,190.91C510.97,190.91,513.14,210.91,515.30,210.91C517.47,210.91,519.64,197.84,521.81,192.05C523.98,186.25,526.14,176.14,528.31,176.14C530.48,176.14,532.65,198.18,534.82,198.18C536.99,198.18,539.15,194.32,541.32,194.32C543.49,194.32,545.66,214.09,547.83,214.09C549.99,214.09,552.16,202.27,554.33,202.27C556.50,202.27,558.67,221.14,560.83,221.14C563.00,221.14,565.17,217.42,567.34,212.50C569.51,207.58,571.68,191.59,573.84,191.59C576.01,191.59,578.18,211.82,580.35,211.82C582.52,211.82,584.68,191.59,586.85,191.59C589.02,191.59,591.19,211.36,593.36,211.36C595.53,211.36,597.69,202.73,599.86,202.73C602.03,202.73,604.20,221.14,606.37,221.14C608.53,221.14,610.70,212.23,612.87,205.68C615.04,199.13,617.21,181.82,619.38,181.82C621.54,181.82,623.71,203.41,625.88,203.41C628.05,203.41,630.22,181.82,632.38,181.82C634.55,181.82,636.72,203.41,638.89,203.41C641.06,203.41,643.22,188.64,645.39,188.64C647.56,188.64,649.73,209.09,651.90,209.09C654.07,209.09,656.23,195.48,658.40,189.80C660.57,184.12,662.74,175.00,664.91,175.00C667.07,175.00,669.24,197.73,671.41,197.73C673.58,197.73,675.75,178.41,677.92,178.41C680.08,178.41,682.25,200.45,684.42,200.45C686.59,200.45,688.76,181.14,690.92,181.14C693.09,181.14,695.26,202.73,697.43,202.73C699.60,202.73,701.76,189.71,703.93,184.60C706.10,179.49,708.27,172.05,710.44,172.05C712.61,172.05,714.77,194.32,716.94,194.32C719.11,194.32,721.28,188.64,723.45,188.64C725.61,188.64,727.78,208.64,729.95,208.64C732.12,208.64,734.29,189.77,736.46,189.77C738.62,189.77,740.79,209.55,742.96,209.55C745.13,209.55,747.30,207.27,749.46,202.73C751.63,198.18,753.80,177.73,755.97,177.73C758.14,177.73,760.31,198.41,762.47,198.41C764.64,198.41,766.81,181.36,768.98,181.36C771.15,181.36,773.31,202.73,775.48,202.73C777.65,202.73,779.82,195.00,781.99,195.00C784.15,195.00,786.32,214.77,788.49,214.77C790.66,214.77,792.83,205.00,795.00,198.18C797.16,191.36,799.33,173.86,801.50,173.86C803.67,173.86,805.84,195.45,808.00,195.45C810.17,195.45,812.34,177.95,814.51,177.95C816.68,177.95,818.85,200.00,821.01,200.00C823.18,200.00,825.35,187.50,827.52,187.50C829.69,187.50,831.85,208.64,834.02,208.64C836.19,208.64,838.36,197.84,840.53,192.05C842.69,186.25,844.86,173.86,847.03,173.86C849.20,173.86,851.37,196.59,853.54,196.59C855.70,196.59,857.87,185.23,860.04,185.23C862.21,185.23,864.38,206.36,866.54,206.36C868.71,206.36,870.88,184.09,873.05,184.09C875.22,184.09,877.39,205.23,879.55,205.23C881.72,205.23,883.89,199.81,886.06,194.32C888.23,188.83,890.39,172.27,892.56,172.27C894.73,172.27,896.90,194.32,899.07,194.32C901.24,194.32,903.40,182.95,905.57,182.95C907.74,182.95,909.91,204.09,912.08,204.09C914.24,204.09,916.41,185.91,918.58,185.91C920.75,185.91,922.92,206.82,925.08,206.82C927.25,206.82,929.42,200.00,931.59,194.32C933.76,188.64,935.93,172.73,938.09,172.73C940.26,172.73,942.43,195.00,944.60,195.45C946.77,195.91,948.93,195.68,951.10,196.14C953.27,196.59,955.44,215.45,957.61,215.45C959.78,215.45,961.94,214.32,964.11,214.32C966.28,214.32,968.45,218.64,970.62,218.64C972.78,218.64,974.95,205.68,977.12,205.68C979.29,205.68,981.46,219.20,983.62,225.00C985.79,230.80,987.96,240.45,990.13,240.45C992.30,240.45,994.47,229.09,996.63,229.09C998.80,229.09,1000.97,243.86,1003.14,243.86C1005.31,243.86,1007.47,227.95,1009.64,227.95C1011.81,227.95,1013.98,243.18,1016.15,243.18C1018.32,243.18,1020.48,237.88,1022.65,231.82C1024.82,225.76,1026.99,206.82,1029.16,206.82C1031.32,206.82,1033.49,225.00,1035.66,225.00C1037.83,225.00,1040.00,202.73,1042.17,202.73C1044.33,202.73,1046.50,220.91,1048.67,220.91C1050.84,220.91,1053.01,210.91,1055.17,210.91C1057.34,210.91,1059.51,228.41,1061.68,228.41C1063.85,228.41,1066.01,219.96,1068.18,212.50C1070.35,205.04,1072.52,183.64,1074.69,183.64C1076.86,183.64,1079.02,205.00,1081.19,205.00C1083.36,205.00,1085.53,185.23,1087.70,185.23C1089.86,185.23,1092.03,206.14,1094.20,206.14C1096.37,206.14,1098.54,192.73,1100.71,192.73C1102.87,192.73,1105.04,213.18,1107.21,213.18C1109.38,213.18,1111.55,202.69,1113.71,196.59C1115.88,190.49,1118.05,176.59,1120.22,176.59C1122.39,176.59,1124.56,198.86,1126.72,198.86C1128.89,198.86,1131.06,191.36,1133.23,191.36C1135.40,191.36,1137.56,211.82,1139.73,211.82C1141.90,211.82,1144.07,191.36,1146.24,191.36C1148.40,191.36,1150.57,211.82,1152.74,211.82C1154.91,211.82,1157.08,208.86,1159.25,203.41C1161.41,197.95,1163.58,179.09,1165.75,179.09C1167.92,179.09,1170.09,201.59,1172.25,201.59C1174.42,201.59,1176.59,182.27,1178.76,182.27C1180.93,182.27,1183.10,204.09,1185.26,204.09C1187.43,204.09,1189.60,196.14,1191.77,196.14C1193.94,196.14,1196.10,215.91,1198.27,215.91C1200.44,215.91,1202.61,208.14,1204.78,201.14C1206.94,194.13,1209.11,173.86,1211.28,173.86C1213.45,173.86,1215.62,196.59,1217.79,196.59C1219.95,196.59,1222.12,177.95,1224.29,177.95C1226.46,177.95,1228.63,200.45,1230.79,200.45C1232.96,200.45,1235.13,188.18,1237.30,188.18C1239.47,188.18,1241.64,209.09,1243.80,209.09C1245.97,209.09,1248.14,198.11,1250.31,192.05C1252.48,185.98,1254.64,172.73,1256.81,172.73C1258.98,172.73,1261.15,195.45,1263.32,195.45C1265.49,195.45,1267.65,188.64,1269.82,188.64C1271.99,188.64,1274.16,209.77,1276.33,209.77C1278.49,209.77,1280.66,189.77,1282.83,189.77C1285.00,189.77,1287.17,210.91,1289.33,210.91C1291.50,210.91,1293.67,208.41,1295.84,203.41C1298.01,198.41,1300.18,177.73,1302.34,177.73C1304.51,177.73,1306.68,200.45,1308.85,200.45C1311.02,200.45,1313.18,181.14,1315.35,181.14C1317.52,181.14,1319.69,203.41,1321.86,203.41C1324.03,203.41,1326.19,195.00,1328.36,195.00C1330.53,195.00,1332.70,215.23,1334.87,215.23C1337.03,215.23,1339.20,206.97,1341.37,200.00C1343.54,193.03,1345.71,173.41,1347.88,173.41C1350.04,173.41,1352.21,195.45,1354.38,195.45C1356.55,195.45,1358.72,177.73,1360.88,177.73C1363.05,177.73,1365.22,200.00,1367.39,200.00C1369.56,200.00,1371.72,187.50,1373.89,187.50C1376.06,187.50,1378.23,208.64,1380.40,208.64C1382.57,208.64,1384.73,199.17,1386.90,193.18C1389.07,187.20,1391.24,172.73,1393.41,172.73C1395.57,172.73,1397.74,196.59,1399.91,196.59C1402.08,196.59,1404.25,184.77,1406.42,184.77C1408.58,184.77,1410.75,206.14,1412.92,206.14C1415.09,206.14,1417.26,179.55,1419.42,179.55C1421.59,179.55,1423.76,202.27,1425.93,202.27C1428.10,202.27,1430.26,196.97,1432.43,192.05C1434.60,187.12,1436.77,172.73,1438.94,172.73C1441.11,172.73,1443.27,196.14,1445.44,196.14C1447.61,196.14,1449.78,193.18,1451.95,193.18C1454.11,193.18,1456.28,211.36,1458.45,214.09C1460.62,216.82,1462.79,215.45,1464.96,218.18C1467.12,220.91,1469.29,231.14,1471.46,235.23C1473.63,239.32,1475.80,242.73,1477.96,242.73C1480.13,242.73,1482.30,198.86,1484.47,198.86C1486.64,198.86,1488.81,217.73,1490.97,217.73C1493.14,217.73,1495.31,213.64,1497.48,213.64C1499.65,213.64,1501.81,230.68,1503.98,230.68C1506.15,230.68,1508.32,225.00,1510.49,225.00C1512.65,225.00,1514.82,240.91,1516.99,240.91C1519.16,240.91,1521.33,228.41,1523.50,228.41C1525.66,228.41,1527.83,235.80,1530.00,243.18" fill="none" stroke="#ef4444" stroke-width="2" stroke-linejoin="round"/>
<circle cx="73.00" cy="86.80" r="3" fill="#ef4444"/>
<circle cx="79.50" cy="96.10" r="3" fill="#ef4444"/>
<circle cx="86.01" cy="115.10" r="3" fill="#ef4444"/>
<circle cx="92.51" cy="125.20" r="3" fill="#ef4444"/>
<circle cx="99.02" cy="155.30" r="3" fill="#ef4444"/>
<circle cx="105.52" cy="157.30" r="5" fill="#ef4444" stroke="#000" stroke-width="1.2"/>
<circle cx="977.12" cy="198.45" r="5.85" fill="#fff" stroke="#000" stroke-width="2.2"/>
<circle cx="977.12" cy="206.15" r="5.85" fill="#fff" stroke="#000" stroke-width="2.2"/>
<circle cx="1484.47" cy="198.70" r="5.85" fill="#fff" stroke="#000" stroke-width="2.2"/>
<g opacity="0.99">
<line x1="67.0" y1="73.0" x2="73.0" y2="73.0" stroke="#d8d9db" stroke-width="1"/>
<text x="64.5" y="77.00" font-size="11" text-anchor="end" fill="#6f7278">95</text>
<line x1="67.0" y1="119.7" x2="73.0" y2="119.7" stroke="#d8d9db" stroke-width="1"/>
<text x="64.5" y="123.67" font-size="11" text-anchor="end" fill="#6f7278">78</text>
<line x1="67.0" y1="189.1" x2="73.0" y2="189.1" stroke="#d8d9db" stroke-width="1"/>
<text x="64.5" y="193.11" font-size="11" text-anchor="end" fill="#6f7278">53</text>
<line x1="67.0" y1="258.6" x2="73.0" y2="258.6" stroke="#d8d9db" stroke-width="1"/>
<text x="64.5" y="262.56" font-size="11" text-anchor="end" fill="#6f7278">28</text>
<line x1="67.0" y1="328.0" x2="73.0" y2="328.0" stroke="#d8d9db" stroke-width="1"/>
<text x="64.5" y="332.00" font-size="11" text-anchor="end" fill="#6f7278">3</text>
<text transform="translate(22,200.3) rotate(-90)" font-size="10" text-anchor="middle" fill="#8e9196" textLength="63" lengthAdjust="spacing">Training Load</text>
<line x1="73.00" y1="328.0" x2="73.00" y2="334.0" stroke="#d8d9db" stroke-width="1"/>
<text transform="translate(78.60,342.1) rotate(-45)" font-size="12" text-anchor="end" fill="#6f7278" letter-spacing="-0.18">Feb 8, 2026</text>
<line x1="105.52" y1="328.0" x2="105.52" y2="334.0" stroke="#d8d9db" stroke-width="1"/>
<text transform="translate(111.12,342.1) rotate(-45)" font-size="12" text-anchor="end" fill="#6f7278" letter-spacing="-0.18">Feb 13, 2026</text>
<line x1="138.04" y1="328.0" x2="138.04" y2="334.0" stroke="#d8d9db" stroke-width="1"/>
<text transform="translate(143.64,342.1) rotate(-45)" font-size="12" text-anchor="end" fill="#6f7278" letter-spacing="-0.18">Feb 18, 2026</text>
<line x1="170.57" y1="328.0" x2="170.57" y2="334.0" stroke="#d8d9db" stroke-width="1"/>
<text transform="translate(176.17,342.1) rotate(-45)" font-size="12" text-anchor="end" fill="#6f7278" letter-spacing="-0.18">Feb 23, 2026</text>
<line x1="203.09" y1="328.0" x2="203.09" y2="334.0" stroke="#d8d9db" stroke-width="1"/>
<text transform="translate(208.69,342.1) rotate(-45)" font-size="12" text-anchor="end" fill="#6f7278" letter-spacing="-0.18">Feb 28, 2026</text>
<line x1="235.61" y1="328.0" x2="235.61" y2="334.0" stroke="#d8d9db" stroke-width="1"/>
<text transform="translate(241.21,342.1) rotate(-45)" font-size="12" text-anchor="end" fill="#6f7278" letter-spacing="-0.18">Mar 5, 2026</text>
<line x1="268.13" y1="328.0" x2="268.13" y2="334.0" stroke="#d8d9db" stroke-width="1"/>
<text transform="translate(273.73,342.1) rotate(-45)" font-size="12" text-anchor="end" fill="#6f7278" letter-spacing="-0.18">Mar 10, 2026</text>
<line x1="300.66" y1="328.0" x2="300.66" y2="334.0" stroke="#d8d9db" stroke-width="1"/>
<text transform="translate(306.26,342.1) rotate(-45)" font-size="12" text-anchor="end" fill="#6f7278" letter-spacing="-0.18">Mar 15, 2026</text>
<line x1="333.18" y1="328.0" x2="333.18" y2="334.0" stroke="#d8d9db" stroke-width="1"/>
<text transform="translate(338.78,342.1) rotate(-45)" font-size="12" text-anchor="end" fill="#6f7278" letter-spacing="-0.18">Mar 20, 2026</text>
<line x1="365.70" y1="328.0" x2="365.70" y2="334.0" stroke="#d8d9db" stroke-width="1"/>
<text transform="translate(371.30,342.1) rotate(-45)" font-size="12" text-anchor="end" fill="#6f7278" letter-spacing="-0.18">Mar 25, 2026</text>
<line x1="398.22" y1="328.0" x2="398.22" y2="334.0" stroke="#d8d9db" stroke-width="1"/>
<text transform="translate(403.82,342.1) rotate(-45)" font-size="12" text-anchor="end" fill="#6f7278" letter-spacing="-0.18">Mar 30, 2026</text>
<line x1="430.75" y1="328.0" x2="430.75" y2="334.0" stroke="#d8d9db" stroke-width="1"/>
<text transform="translate(436.35,342.1) rotate(-45)" font-size="12" text-anchor="end" fill="#6f7278" letter-spacing="-0.18">Apr 4, 2026</text>
<line x1="463.27" y1="328.0" x2="463.27" y2="334.0" stroke="#d8d9db" stroke-width="1"/>
<text transform="translate(468.87,342.1) rotate(-45)" font-size="12" text-anchor="end" fill="#6f7278" letter-spacing="-0.18">Apr 9, 2026</text>
<line x1="495.79" y1="328.0" x2="495.79" y2="334.0" stroke="#d8d9db" stroke-width="1"/>
<text transform="translate(501.39,342.1) rotate(-45)" font-size="12" text-anchor="end" fill="#6f7278" letter-spacing="-0.18">Apr 14, 2026</text>
<line x1="528.31" y1="328.0" x2="528.31" y2="334.0" stroke="#d8d9db" stroke-width="1"/>
<text transform="translate(533.91,342.1) rotate(-45)" font-size="12" text-anchor="end" fill="#6f7278" letter-spacing="-0.18">Apr 19, 2026</text>
<line x1="560.83" y1="328.0" x2="560.83" y2="334.0" stroke="#d8d9db" stroke-width="1"/>
<text transform="translate(566.43,342.1) rotate(-45)" font-size="12" text-anchor="end" fill="#6f7278" letter-spacing="-0.18">Apr 24, 2026</text>
<line x1="593.36" y1="328.0" x2="593.36" y2="334.0" stroke="#d8d9db" stroke-width="1"/>
<text transform="translate(598.96,342.1) rotate(-45)" font-size="12" text-anchor="end" fill="#6f7278" letter-spacing="-0.18">Apr 29, 2026</text>
<line x1="625.88" y1="328.0" x2="625.88" y2="334.0" stroke="#d8d9db" stroke-width="1"/>
<text transform="translate(631.48,342.1) rotate(-45)" font-size="12" text-anchor="end" fill="#6f7278" letter-spacing="-0.18">May 4, 2026</text>
<line x1="658.40" y1="328.0" x2="658.40" y2="334.0" stroke="#d8d9db" stroke-width="1"/>
<text transform="translate(664.00,342.1) rotate(-45)" font-size="12" text-anchor="end" fill="#6f7278" letter-spacing="-0.18">May 9, 2026</text>
<line x1="690.92" y1="328.0" x2="690.92" y2="334.0" stroke="#d8d9db" stroke-width="1"/>
<text transform="translate(696.52,342.1) rotate(-45)" font-size="12" text-anchor="end" fill="#6f7278" letter-spacing="-0.18">May 14, 2026</text>
<line x1="723.45" y1="328.0" x2="723.45" y2="334.0" stroke="#d8d9db" stroke-width="1"/>
<text transform="translate(729.05,342.1) rotate(-45)" font-size="12" text-anchor="end" fill="#6f7278" letter-spacing="-0.18">May 19, 2026</text>
<line x1="755.97" y1="328.0" x2="755.97" y2="334.0" stroke="#d8d9db" stroke-width="1"/>
<text transform="translate(761.57,342.1) rotate(-45)" font-size="12" text-anchor="end" fill="#6f7278" letter-spacing="-0.18">May 24, 2026</text>
<line x1="788.49" y1="328.0" x2="788.49" y2="334.0" stroke="#d8d9db" stroke-width="1"/>
<text transform="translate(794.09,342.1) rotate(-45)" font-size="12" text-anchor="end" fill="#6f7278" letter-spacing="-0.18">May 29, 2026</text>
<line x1="821.01" y1="328.0" x2="821.01" y2="334.0" stroke="#d8d9db" stroke-width="1"/>
<text transform="translate(826.61,342.1) rotate(-45)" font-size="12" text-anchor="end" fill="#6f7278" letter-spacing="-0.18">Jun 3, 2026</text>
<line x1="853.54" y1="328.0" x2="853.54" y2="334.0" stroke="#d8d9db" stroke-width="1"/>
<text transform="translate(859.14,342.1) rotate(-45)" font-size="12" text-anchor="end" fill="#6f7278" letter-spacing="-0.18">Jun 8, 2026</text>
<line x1="886.06" y1="328.0" x2="886.06" y2="334.0" stroke="#d8d9db" stroke-width="1"/>
<text transform="translate(891.66,342.1) rotate(-45)" font-size="12" text-anchor="end" fill="#6f7278" letter-spacing="-0.18">Jun 13, 2026</text>
<line x1="918.58" y1="328.0" x2="918.58" y2="334.0" stroke="#d8d9db" stroke-width="1"/>
<text transform="translate(924.18,342.1) rotate(-45)" font-size="12" text-anchor="end" fill="#6f7278" letter-spacing="-0.18">Jun 18, 2026</text>
<line x1="951.10" y1="328.0" x2="951.10" y2="334.0" stroke="#d8d9db" stroke-width="1"/>
<text transform="translate(956.70,342.1) rotate(-45)" font-size="12" text-anchor="end" fill="#6f7278" letter-spacing="-0.18">Jun 23, 2026</text>
<line x1="983.62" y1="328.0" x2="983.62" y2="334.0" stroke="#d8d9db" stroke-width="1"/>
<text transform="translate(989.23,342.1) rotate(-45)" font-size="12" text-anchor="end" fill="#6f7278" letter-spacing="-0.18">Jun 28, 2026</text>
<line x1="1016.15" y1="328.0" x2="1016.15" y2="334.0" stroke="#d8d9db" stroke-width="1"/>
<text transform="translate(1021.75,342.1) rotate(-45)" font-size="12" text-anchor="end" fill="#6f7278" letter-spacing="-0.18">Jul 3, 2026</text>
<line x1="1048.67" y1="328.0" x2="1048.67" y2="334.0" stroke="#d8d9db" stroke-width="1"/>
<text transform="translate(1054.27,342.1) rotate(-45)" font-size="12" text-anchor="end" fill="#6f7278" letter-spacing="-0.18">Jul 8, 2026</text>
<line x1="1081.19" y1="328.0" x2="1081.19" y2="334.0" stroke="#d8d9db" stroke-width="1"/>
<text transform="translate(1086.79,342.1) rotate(-45)" font-size="12" text-anchor="end" fill="#6f7278" letter-spacing="-0.18">Jul 13, 2026</text>
<line x1="1113.71" y1="328.0" x2="1113.71" y2="334.0" stroke="#d8d9db" stroke-width="1"/>
<text transform="translate(1119.31,342.1) rotate(-45)" font-size="12" text-anchor="end" fill="#6f7278" letter-spacing="-0.18">Jul 18, 2026</text>
<line x1="1146.24" y1="328.0" x2="1146.24" y2="334.0" stroke="#d8d9db" stroke-width="1"/>
<text transform="translate(1151.84,342.1) rotate(-45)" font-size="12" text-anchor="end" fill="#6f7278" letter-spacing="-0.18">Jul 23, 2026</text>
<line x1="1178.76" y1="328.0" x2="1178.76" y2="334.0" stroke="#d8d9db" stroke-width="1"/>
<text transform="translate(1184.36,342.1) rotate(-45)" font-size="12" text-anchor="end" fill="#6f7278" letter-spacing="-0.18">Jul 28, 2026</text>
<line x1="1211.28" y1="328.0" x2="1211.28" y2="334.0" stroke="#d8d9db" stroke-width="1"/>
<text transform="translate(1216.88,342.1) rotate(-45)" font-size="12" text-anchor="end" fill="#6f7278" letter-spacing="-0.18">Aug 2, 2026</text>
<line x1="1243.80" y1="328.0" x2="1243.80" y2="334.0" stroke="#d8d9db" stroke-width="1"/>
<text transform="translate(1249.40,342.1) rotate(-45)" font-size="12" text-anchor="end" fill="#6f7278" letter-spacing="-0.18">Aug 7, 2026</text>
<line x1="1276.33" y1="328.0" x2="1276.33" y2="334.0" stroke="#d8d9db" stroke-width="1"/>
<text transform="translate(1281.93,342.1) rotate(-45)" font-size="12" text-anchor="end" fill="#6f7278" letter-spacing="-0.18">Aug 12, 2026</text>
<line x1="1308.85" y1="328.0" x2="1308.85" y2="334.0" stroke="#d8d9db" stroke-width="1"/>
<text transform="translate(1314.45,342.1) rotate(-45)" font-size="12" text-anchor="end" fill="#6f7278" letter-spacing="-0.18">Aug 17, 2026</text>
<line x1="1341.37" y1="328.0" x2="1341.37" y2="334.0" stroke="#d8d9db" stroke-width="1"/>
<text transform="translate(1346.97,342.1) rotate(-45)" font-size="12" text-anchor="end" fill="#6f7278" letter-spacing="-0.18">Aug 22, 2026</text>
<line x1="1373.89" y1="328.0" x2="1373.89" y2="334.0" stroke="#d8d9db" stroke-width="1"/>
<text transform="translate(1379.49,342.1) rotate(-45)" font-size="12" text-anchor="end" fill="#6f7278" letter-spacing="-0.18">Aug 27, 2026</text>
<line x1="1406.42" y1="328.0" x2="1406.42" y2="334.0" stroke="#d8d9db" stroke-width="1"/>
<text transform="translate(1412.02,342.1) rotate(-45)" font-size="12" text-anchor="end" fill="#6f7278" letter-spacing="-0.18">Sep 1, 2026</text>
<line x1="1438.94" y1="328.0" x2="1438.94" y2="334.0" stroke="#d8d9db" stroke-width="1"/>
<text transform="translate(1444.54,342.1) rotate(-45)" font-size="12" text-anchor="end" fill="#6f7278" letter-spacing="-0.18">Sep 6, 2026</text>
<line x1="1471.46" y1="328.0" x2="1471.46" y2="334.0" stroke="#d8d9db" stroke-width="1"/>
<text transform="translate(1477.06,342.1) rotate(-45)" font-size="12" text-anchor="end" fill="#6f7278" letter-spacing="-0.18">Sep 11, 2026</text>
<line x1="1530.00" y1="328.0" x2="1530.00" y2="334.0" stroke="#d8d9db" stroke-width="1"/>
<text transform="translate(1532.60,342.1) rotate(-45)" font-size="12" text-anchor="end" fill="#6f7278" letter-spacing="-0.18">Sep 20, 2026</text>
</g>
<circle cx="701" cy="418" r="6" fill="#ef4444"/>
<text x="715.3" y="423" font-size="15" fill="#4b5563" textLength="48.6" lengthAdjust="spacing">Fatigue</text>
<circle cx="786" cy="418" r="6" fill="#3b82f6"/>
<text x="800.4" y="423" font-size="15" fill="#4b5563" textLength="47" lengthAdjust="spacing">Fitness</text>
</svg></body></html>
